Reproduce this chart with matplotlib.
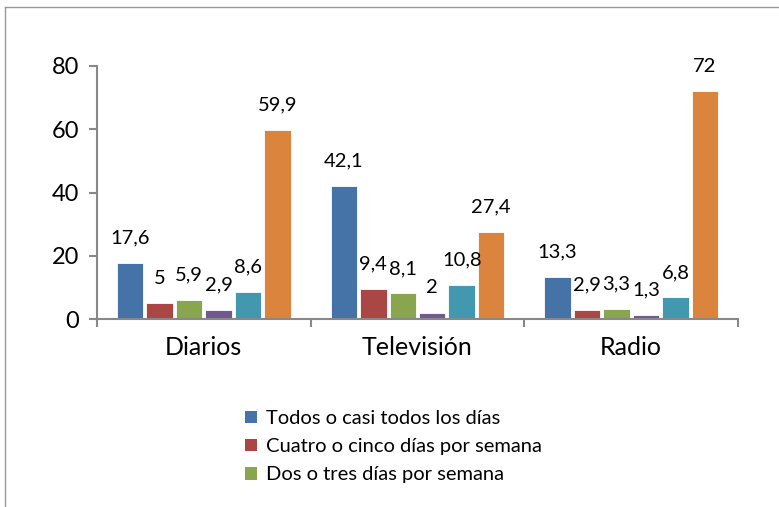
import matplotlib.pyplot as plt
from matplotlib.lines import Line2D
from matplotlib.patches import Patch
import numpy as np

plt.rcParams['font.family'] = ['Lato', 'DejaVu Sans']

categories = ['Diarios', 'Televisión', 'Radio']
series = ['Todos o casi todos los días', 'Cuatro o cinco días por semana',
          'Dos o tres días por semana', 'Serie 4', 'Serie 5', 'Serie 6']
values = [
    [17.6, 42.1, 13.3],
    [5, 9.4, 2.9],
    [5.9, 8.1, 3.3],
    [2.9, 2, 1.3],
    [8.6, 10.8, 6.8],
    [59.9, 27.4, 72],
]
colors = ['#4572A7', '#AA4643', '#89A54E', '#71588F', '#4198AF', '#DB843D']
yticks = [0, 20, 40, 60, 80]

fig = plt.figure(figsize=(7.79, 5.07), dpi=100)
ax = fig.add_axes([97 / 779, 1 - 319 / 507, (738 - 97) / 779, (319 - 66) / 507])

step = 0.138
width = 0.124
centers = np.arange(len(categories)) + 0.5
for i, vals in enumerate(values):
    x = centers + (i - 2.5) * step
    bars = ax.bar(x, vals, width=width, color=colors[i], edgecolor='white', linewidth=0.6)
    for b, v in zip(bars, vals):
        lab = f'{v:g}'.replace('.', ',')
        ax.annotate(lab, (b.get_x() + b.get_width() / 2, v), xytext=(0, 18),
                    textcoords='offset points', ha='center', va='center', fontsize=14.5)

ax.set_xlim(0, 3)
ax.set_ylim(0, 80)
ax.set_yticks(yticks)
ax.set_yticklabels([str(t) for t in yticks], fontsize=17)
ax.set_xticks([0, 1, 2, 3])
ax.set_xticklabels([])
ax.set_xticks(centers, minor=True)
ax.set_xticklabels(categories, minor=True, fontsize=18)
ax.tick_params(axis='x', which='minor', length=0, pad=12)
ax.tick_params(axis='x', which='major', length=6, width=1.5, color='#888888', direction='out')
ax.tick_params(axis='y', length=6, width=1.5, color='#888888', direction='out', pad=7)
for s in ['top', 'right']:
    ax.spines[s].set_visible(False)
for s in ['left', 'bottom']:
    ax.spines[s].set_color('#888888')
    ax.spines[s].set_linewidth(1.5)

handles = [Patch(facecolor=colors[i], edgecolor='none') for i in range(3)]
fig.legend(handles, series[:3], loc='upper left', bbox_to_anchor=(227 / 779, 1 - 392 / 507),
           frameon=False, fontsize=14.5, handlelength=0.6, handleheight=0.6,
           handletextpad=0.45, labelspacing=0.55)

fig.add_artist(Line2D([5 / 779, 5 / 779], [0, 1 - 7 / 507], transform=fig.transFigure,
                      color='#999999', linewidth=1))
fig.add_artist(Line2D([5 / 779, 1], [1 - 7 / 507, 1 - 7 / 507], transform=fig.transFigure,
                      color='#999999', linewidth=1))

fig.savefig('out.png', dpi=100)
